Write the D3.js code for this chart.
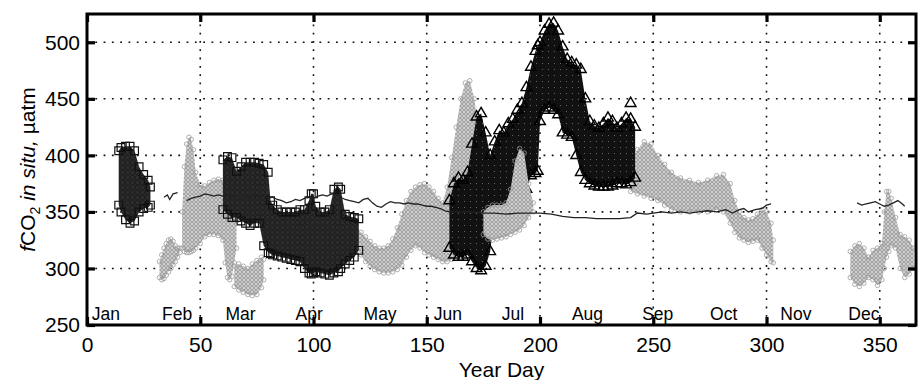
<!DOCTYPE html>
<html>
<head>
<meta charset="utf-8">
<script src="https://cdn.jsdelivr.net/npm/d3@7"></script>
<style>
  html, body { margin: 0; padding: 0; background: #fff; }
  svg { display: block; }
  text { font-family: "Liberation Sans", Arial, Helvetica, sans-serif; fill: #000; }
</style>
</head>
<body>
<svg id="chart" width="918" height="380"></svg>
<script>
// Axis ticks and month labels
const xTicks = [0, 50, 100, 150, 200, 250, 300, 350];
const yTicks = [250, 300, 350, 400, 450, 500];
const xGrid = [50, 100, 150, 200, 250, 300, 350];
const yGrid = [300, 350, 400, 450, 500];
const months = ["Jan", "Feb", "Mar", "Apr", "May", "Jun", "Jul", "Aug", "Sep", "Oct", "Nov", "Dec"];
const monthStart = [1, 32, 60, 91, 121, 152, 182, 213, 244, 274, 305, 335];

// Observed in-situ fCO2 spread per day: [year day, lowest, highest] (null separates cruises)
const circleRanges = [
  [32, 292, 306], [33, 290, 312], [34, 291, 318], [35, 294, 322], [36, 297, 325], [37, 300, 326],
  [38, 303, 324], [39, 306, 320], [40, 310, 318], [41, 314, 318], null,
  [42, 318, 350], [43, 315, 390], [44, 314, 410], [45, 314, 416], [46, 315, 414], [47, 316, 405],
  [48, 318, 385], [50, 322, 374], [52, 328, 373], [54, 330, 376], [56, 330, 378], [58, 329, 379],
  [60, 325, 378], [61, 305, 374], [62, 292, 368], [63, 290, 362], [64, 293, 356], [65, 305, 350],
  [66, 318, 342], null,
  [65, 284, 302], [67, 281, 304], [69, 279, 302], [71, 277, 300], [73, 276, 304], [75, 277, 307],
  [77, 283, 310], [78, 290, 308], null,
  [119, 318, 334], [121, 312, 332], [123, 306, 328], [125, 302, 324], [127, 299, 320], [129, 297, 318],
  [131, 296, 318], [133, 296, 320], [135, 297, 326], [137, 299, 336], [139, 303, 348], [141, 310, 360],
  [143, 316, 368], [145, 320, 372], [147, 318, 374], [149, 314, 375], [151, 312, 372], [153, 310, 368],
  [155, 308, 362], [157, 306, 358], [159, 306, 372], [161, 308, 398], [163, 312, 425], [165, 318, 450],
  [167, 322, 464], [169, 330, 466], [171, 338, 450], [173, 345, 420], [174, 345, 380], null,
  [240, 368, 395], [243, 366, 405], [246, 364, 412], [249, 362, 410], [252, 360, 400], [255, 356, 392],
  [258, 352, 385], [262, 350, 380], [266, 350, 378], [270, 350, 376], [274, 350, 378], [278, 352, 382],
  [281, 350, 383], [284, 340, 375], [286, 332, 360], [288, 327, 350], [290, 325, 345], [292, 323, 343],
  [294, 324, 344], [296, 325, 348], [298, 318, 352], [300, 312, 350], [302, 306, 340], [303, 305, 325], null,
  [337, 292, 315], [339, 286, 320], [341, 284, 322], [343, 287, 318], [345, 292, 310], [347, 290, 316],
  [349, 285, 318], [351, 290, 322], [352, 300, 350], [353, 310, 368], [354, 315, 368], [355, 320, 362],
  [357, 318, 345], [359, 300, 330], [361, 292, 328], [363, 295, 325], [365, 300, 318]
];
const circleRangesJul = [
  [175, 330, 350], [177, 326, 354], [179, 325, 356], [181, 326, 356], [183, 327, 356], [185, 328, 358],
  [187, 330, 370], [189, 332, 395], [191, 334, 406], [193, 338, 402], [195, 345, 375], [197, 350, 358]
];
const squareRanges = [
  [14, 356, 404], [15, 350, 407], [17, 343, 408], [19, 340, 408], [21, 342, 404], [23, 350, 390],
  [25, 353, 383], [27, 354, 378], [28, 356, 372], null,
  [60, 352, 396], [62, 348, 399], [64, 345, 398], [66, 345, 386], [68, 342, 390], [70, 340, 394],
  [72, 338, 394], [74, 340, 394], [76, 340, 393], [78, 320, 392], [80, 314, 385], [81, 313, 360],
  [82, 312, 356], [84, 311, 352], [86, 310, 350], [88, 309, 350], [90, 308, 350], [92, 307, 350],
  [94, 306, 352], [96, 300, 352], [98, 296, 360], [99, 295, 366], [100, 296, 366], [101, 297, 355],
  [103, 296, 350], [105, 295, 350], [107, 294, 352], [109, 296, 370], [111, 297, 372], [112, 300, 370],
  [114, 304, 348], [116, 307, 346], [118, 310, 345], [120, 316, 344]
];
const triangleRanges = [
  [160, 318, 360], [162, 312, 375], [164, 310, 380], [166, 310, 378], [168, 312, 385], [170, 306, 410],
  [172, 300, 434], [174, 298, 437], [176, 302, 420], [178, 315, 400], [180, 350, 412], [182, 352, 422],
  [184, 353, 420], [186, 354, 428], [188, 356, 432], [190, 358, 440], [192, 360, 446], [194, 370, 460],
  [196, 382, 478], [198, 384, 492], [199, 386, 497], [200, 430, 500], [202, 440, 510], [204, 442, 516],
  [206, 440, 517], [208, 436, 510], [210, 420, 496], [212, 418, 485], [214, 416, 482], [216, 400, 480],
  [218, 385, 476], [220, 378, 450], [222, 375, 430], [224, 373, 426], [226, 372, 424], [228, 372, 428],
  [230, 372, 433], [232, 373, 430], [234, 375, 424], [236, 375, 428], [238, 374, 433], [240, 376, 432],
  [242, 380, 425]
];
const triangleSingles = [[240, 446]];

// Atmospheric fCO2 trace: [year day, fCO2] (null marks gaps)
const airLine = [
  [34, 363], [35.5, 365], [36.5, 361], [38, 366], [40, 367], null,
  [44, 360], [46, 362], [48, 363], [50, 364], [52, 366], [54, 365], [56, 364], [58, 365], [60, 364],
  [62, 366], [64, 363], [66, 365], [68, 362], [70, 364], [72, 362], [74, 365], [76, 363], [78, 364],
  [80, 362], [82, 363], [84, 361], [86, 360], [88, 358], [90, 359], [92, 361], [94, 360], [96, 362],
  [98, 363], [100, 362], [102, 364], [104, 365], [106, 364], [108, 366], [110, 365], [112, 363],
  [114, 361], [116, 360], [118, 359], [120, 358], [122, 361], [124, 362], [126, 358], [128, 355],
  [130, 354], [132, 357], [134, 359], [136, 358], [138, 358], [140, 357], [142, 358], [144, 357],
  [146, 357], [148, 356], [150, 355], [152, 355], [154, 354], [156, 353], [158, 351], [160, 350],
  [165, 350], [170, 350], [175, 349], [180, 349], [185, 348], [190, 349], [195, 349], [200, 349],
  [205, 348], [210, 346], [215, 345], [220, 345], [225, 344], [230, 344], [235, 344], [240, 345],
  [243, 349], [247, 348], [250, 349], [254, 350], [258, 349], [262, 350], [266, 349], [270, 350],
  [274, 351], [278, 350], [282, 352], [285, 349], [288, 352], [290, 353], [292, 350], [295, 352],
  [298, 353], [300, 356], [302, 357], null,
  [340, 358], [342, 356], [344, 357], [346, 358], [348, 359], [350, 357], [352, 355], [354, 356],
  [356, 358], [358, 360], [360, 357], [361, 355]
];

const W = 918, H = 380;
const margin = { left: 87, right: 2, top: 14, bottom: 55 };
const svg = d3.select("#chart");

const x = d3.scaleLinear().domain([0, 366]).range([margin.left, W - margin.right]);
const y = d3.scaleLinear().domain([250, 525]).range([H - margin.bottom, margin.top]);

// Marker textures for dense stacks of symbols
const defs = svg.append("defs");
const pCirc = defs.append("pattern").attr("id", "texCircle").attr("patternUnits", "userSpaceOnUse")
  .attr("width", 4).attr("height", 4);
pCirc.append("rect").attr("width", 4).attr("height", 4).attr("fill", "#d2d2d2");
pCirc.append("circle").attr("cx", 2).attr("cy", 2).attr("r", 1.4).attr("fill", "#eeeeee")
  .attr("stroke", "#808080").attr("stroke-width", 0.8);

const pSq = defs.append("pattern").attr("id", "texSquare").attr("patternUnits", "userSpaceOnUse")
  .attr("width", 5).attr("height", 5);
pSq.append("rect").attr("width", 5).attr("height", 5).attr("fill", "#6b6b6b");
pSq.append("rect").attr("x", 0.6).attr("y", 0.6).attr("width", 3.8).attr("height", 3.8)
  .attr("fill", "#2e2e2e").attr("stroke", "#1a1a1a").attr("stroke-width", 1);

const pTri = defs.append("pattern").attr("id", "texTriangle").attr("patternUnits", "userSpaceOnUse")
  .attr("width", 6).attr("height", 6);
pTri.append("rect").attr("width", 6).attr("height", 6).attr("fill", "#111");
pTri.append("rect").attr("x", 2).attr("y", 3).attr("width", 1).attr("height", 1).attr("fill", "#666");

const clip = defs.append("clipPath").attr("id", "plotClip");
clip.append("rect").attr("x", x(0)).attr("y", y(525)).attr("width", x(366) - x(0)).attr("height", y(250) - y(525));

// Dotted grid
const grid = svg.append("g");
grid.selectAll(".gx").data(xGrid).join("line")
  .attr("x1", d => x(d)).attr("x2", d => x(d)).attr("y1", y(250)).attr("y2", y(525))
  .attr("stroke", "#111").attr("stroke-width", 1.6).attr("stroke-dasharray", "1.8,6.5");
grid.selectAll(".gy").data(yGrid).join("line")
  .attr("y1", d => y(d)).attr("y2", d => y(d)).attr("x1", x(0)).attr("x2", x(366))
  .attr("stroke", "#111").attr("stroke-width", 1.6).attr("stroke-dasharray", "1.8,6.5");

const plot = svg.append("g").attr("clip-path", "url(#plotClip)");

const band = d3.area()
  .defined(d => d !== null)
  .x(d => x(d[0]))
  .y0(d => y(d[1]))
  .y1(d => y(d[2]));

function drawSeries(rows, tex, symbolType, size, stroke, strokeWidth) {
  const g = plot.append("g");
  g.append("path").datum(rows).attr("d", band).attr("fill", tex);
  const pts = rows.filter(d => d !== null);
  const sym = d3.symbol().type(symbolType).size(size);
  g.selectAll(".top").data(pts).join("path")
    .attr("transform", d => `translate(${x(d[0])},${y(d[2])})`)
    .attr("d", sym).attr("fill", "none").attr("stroke", stroke).attr("stroke-width", strokeWidth);
  g.selectAll(".bot").data(pts).join("path")
    .attr("transform", d => `translate(${x(d[0])},${y(d[1])})`)
    .attr("d", sym).attr("fill", "none").attr("stroke", stroke).attr("stroke-width", strokeWidth);
  return g;
}

drawSeries(circleRanges, "url(#texCircle)", d3.symbolCircle, 16, "#9a9a9a", 0.8);
drawSeries(squareRanges, "url(#texSquare)", d3.symbolSquare, 60, "#111", 1.2);
const tg = drawSeries(triangleRanges, "url(#texTriangle)", d3.symbolTriangle, 50, "#000", 1.4);
tg.selectAll(".single").data(triangleSingles).join("path")
  .attr("transform", d => `translate(${x(d[0])},${y(d[1])})`)
  .attr("d", d3.symbol().type(d3.symbolTriangle).size(50)())
  .attr("fill", "none").attr("stroke", "#000").attr("stroke-width", 1.4);
drawSeries(circleRangesJul, "url(#texCircle)", d3.symbolCircle, 16, "#9a9a9a", 0.8);

// Atmospheric trace
plot.append("path").datum(airLine)
  .attr("d", d3.line().defined(d => d !== null).x(d => x(d[0])).y(d => y(d[1])))
  .attr("fill", "none").attr("stroke", "#222").attr("stroke-width", 1.3);

// Axes with inward ticks on all four sides
const fontSize = 21;
const axB = svg.append("g").attr("transform", `translate(0,${y(250)})`)
  .call(d3.axisBottom(x).tickValues(xTicks).tickSizeInner(-8).tickSizeOuter(0).tickPadding(12));
const axL = svg.append("g").attr("transform", `translate(${x(0)},0)`)
  .call(d3.axisLeft(y).tickValues(yTicks).tickSizeInner(-8).tickSizeOuter(0).tickPadding(7));
const axT = svg.append("g").attr("transform", `translate(0,${y(525)})`)
  .call(d3.axisTop(x).tickValues(xTicks).tickSizeInner(-8).tickSizeOuter(0).tickFormat(""));
const axR = svg.append("g").attr("transform", `translate(${x(366)},0)`)
  .call(d3.axisRight(y).tickValues(yTicks).tickSizeInner(-8).tickSizeOuter(0).tickFormat(""));
[axB, axL, axT, axR].forEach(a => {
  a.select(".domain").remove();
  a.selectAll(".tick line").attr("stroke", "#000").attr("stroke-width", 3.2);
  a.selectAll(".tick text").attr("font-size", fontSize)
    .style("font-family", '"Liberation Sans", Arial, sans-serif').attr("fill", "#000");
});

// Frame
svg.append("rect").attr("x", x(0)).attr("y", y(525))
  .attr("width", x(366) - x(0)).attr("height", y(250) - y(525))
  .attr("fill", "none").attr("stroke", "#000").attr("stroke-width", 3);

// Month labels along the bottom inside the plot
svg.append("g").selectAll("text").data(months).join("text")
  .attr("x", (d, i) => x(monthStart[i]) + 2.5)
  .attr("y", y(250) - 5)
  .attr("font-size", 17.5)
  .text(d => d);

// Axis titles
svg.append("text").attr("x", (x(0) + x(366)) / 2).attr("y", 377)
  .attr("text-anchor", "middle").attr("font-size", 21).text("Year Day");

const yl = svg.append("text").attr("transform", `translate(35,${(y(250) + y(525)) / 2}) rotate(-90)`)
  .attr("text-anchor", "middle").attr("font-size", 21);
yl.append("tspan").attr("font-style", "italic").text("f");
yl.append("tspan").text("CO");
yl.append("tspan").attr("font-size", 14).attr("dy", "0.35em").text("2");
yl.append("tspan").attr("dy", "-0.23em").attr("font-style", "italic").text(" in situ,");
yl.append("tspan").text(" \u00b5atm");
</script>
</body>
</html>
